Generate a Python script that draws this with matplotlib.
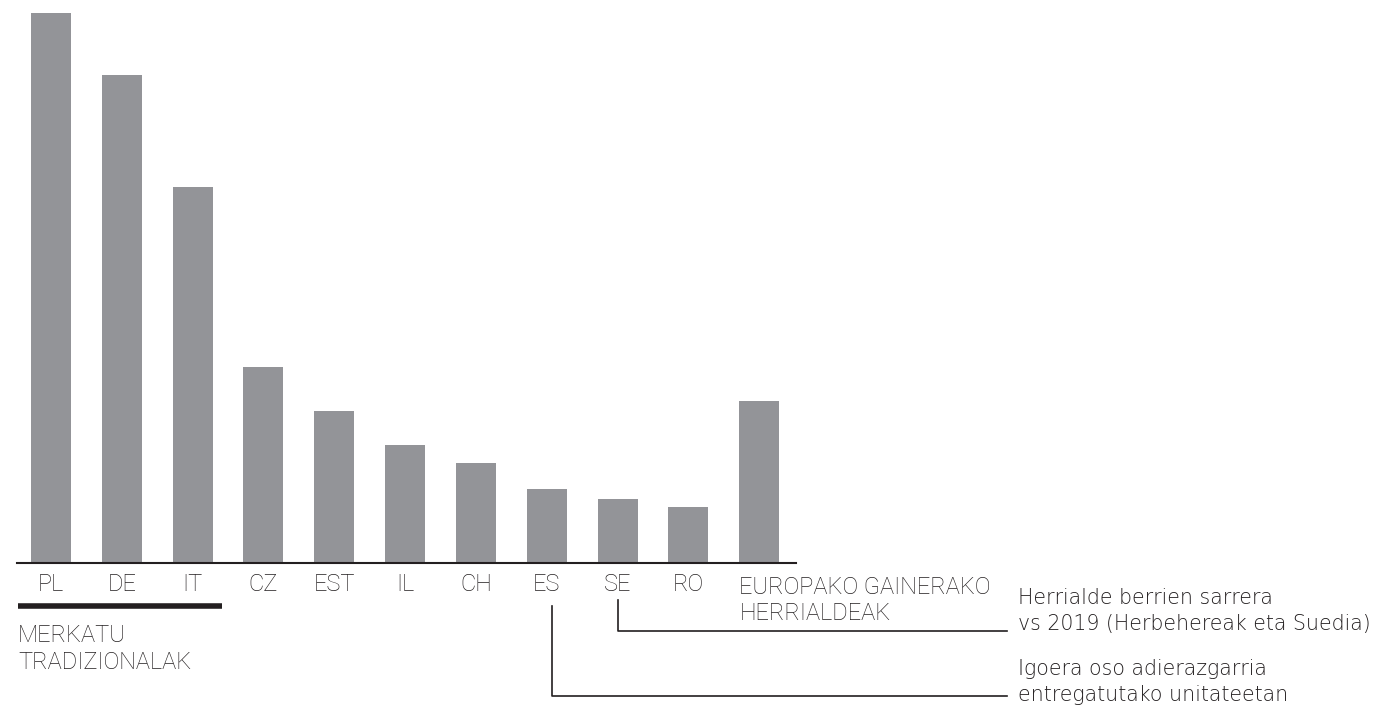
import matplotlib
matplotlib.use("Agg")
import matplotlib.pyplot as plt
from matplotlib.lines import Line2D
import matplotlib.transforms as mtransforms

# ---- data ----
categories = ["PL", "DE", "IT", "CZ", "EST", "IL", "CH", "ES", "SE", "RO",
              "EUROPAKO GAINERAKO\nHERRIALDEAK"]
values = [550, 488, 376, 196, 152, 118, 100, 74, 64, 56, 162]
group_label = "MERKATU\nTRADIZIONALAK"
note_se = "Herrialde berrien sarrera\nvs 2019 (Herbehereak eta Suedia)"
note_es = "Igoera oso adierazgarria\nentregatutako unitateetan"

BAR = "#939498"
INK = "#231f20"
W, H = 1390, 708

plt.rcParams['font.family'] = ['Roboto', 'DejaVu Sans']

fig = plt.figure(figsize=(W / 100, H / 100), dpi=100)

def fx(x):
    return x / W

def fy(y):
    return 1 - y / H

# axes: pixel 17..796 horizontally, 0..563 vertically
ax = fig.add_axes([fx(17), fy(563), (796 - 17) / W, 563 / H])
n = len(categories)
idx = list(range(n))
ax.bar(idx, values, width=0.565, color=BAR, zorder=2)
ax.set_xlim(-0.48, n - 1 + 0.52)
ax.set_ylim(0, 563)
for s in ["top", "right", "left"]:
    ax.spines[s].set_visible(False)
ax.spines["bottom"].set_color(INK)
ax.spines["bottom"].set_linewidth(1.5)
ax.set_xticks([])
ax.set_yticks([])

LAB = dict(fontsize=17, color=INK, fontweight="light")
trans = mtransforms.blended_transform_factory(ax.transData, fig.transFigure)
for i, lab in enumerate(categories):
    if "\n" in lab:
        # baseline of last line
        ax.text(i - 0.28, fy(620), lab, transform=trans, ha="left", va="baseline",
                linespacing=1.15, **LAB)
    else:
        ax.text(i, fy(591), lab, transform=trans, ha="center", va="baseline", **LAB)

# group underline
fig.add_artist(Line2D([fx(18), fx(222)], [fy(605.5), fy(605.5)],
                      transform=fig.transFigure, color=INK, linewidth=4,
                      solid_capstyle="butt"))
fig.text(fx(18), fy(669), group_label, ha="left", va="baseline",
         linespacing=1.22, **LAB)

# annotation lines
fig.add_artist(Line2D([fx(618), fx(618), fx(1007)], [fy(600), fy(631), fy(631)],
                      transform=fig.transFigure, color=INK, linewidth=1.2))
fig.add_artist(Line2D([fx(552), fx(552), fx(1007)], [fy(606), fy(696), fy(696)],
                      transform=fig.transFigure, color=INK, linewidth=1.2))

NOTE = dict(fontsize=14.8, color=INK, family="DejaVu Sans", fontweight="light",
            linespacing=1.38)
fig.text(fx(1018), fy(630), note_se, ha="left", va="baseline", **NOTE)
fig.text(fx(1018), fy(701), note_es, ha="left", va="baseline", **NOTE)

fig.savefig("out.png", dpi=100)
